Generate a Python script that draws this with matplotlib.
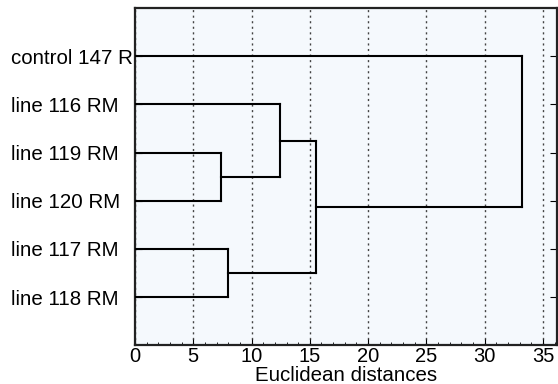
import matplotlib
matplotlib.use("Agg")
import matplotlib.pyplot as plt
from matplotlib.ticker import MultipleLocator

plt.rcParams['font.family'] = ['Liberation Sans', 'DejaVu Sans']

# leaves, top to bottom
labels = ['control 147 R', 'line 116 RM', 'line 119 RM',
          'line 120 RM', 'line 117 RM', 'line 118 RM']
# merges: (child a, child b, distance); new nodes numbered after the leaves
merge_a = [2, 1, 4, 7, 0]
merge_b = [3, 6, 5, 8, 9]
merge_h = [7.4, 12.4, 8.0, 15.5, 33.2]

fig = plt.figure(figsize=(5.58, 3.84), dpi=100)
ax = fig.add_axes([0.242, 0.101, 0.756, 0.878])
ax.set_facecolor('#f5f9fd')

node_y = [i + 1 for i in range(len(labels))]
node_x = [0.0] * len(labels)
for a, b, h in zip(merge_a, merge_b, merge_h):
    for c in (a, b):
        ax.plot([node_x[c], h], [node_y[c], node_y[c]], color='black', lw=1.5,
                solid_capstyle='projecting', zorder=3)
    ax.plot([h, h], [node_y[a], node_y[b]], color='black', lw=1.5,
            solid_capstyle='projecting', zorder=3)
    node_x.append(h)
    node_y.append((node_y[a] + node_y[b]) / 2)

ax.set_xlim(0, 36.2)
ax.set_ylim(7, 0)
ax.xaxis.set_major_locator(MultipleLocator(5))
ax.xaxis.set_minor_locator(MultipleLocator(1))
ax.set_yticks(range(1, len(labels) + 1))
ax.set_yticklabels(labels)
ax.grid(axis='x', which='major', linestyle=(0, (1.5, 2.5)), color='#444444', lw=1)
ax.set_axisbelow(True)

ax.tick_params(axis='x', which='major', direction='in', length=4, labelsize=14.5, pad=1)
ax.tick_params(axis='x', which='minor', direction='in', length=2)
ax.tick_params(axis='y', direction='in', length=5, labelsize=14.8, pad=89,
               right=True)
for t in ax.get_yticklabels():
    t.set_horizontalalignment('left')
for s in ax.spines.values():
    s.set_linewidth(1.6)
    s.set_color('#222222')

ax.set_xlabel('Euclidean distances', fontsize=14.8, labelpad=0)

fig.savefig('out.png', dpi=100)
